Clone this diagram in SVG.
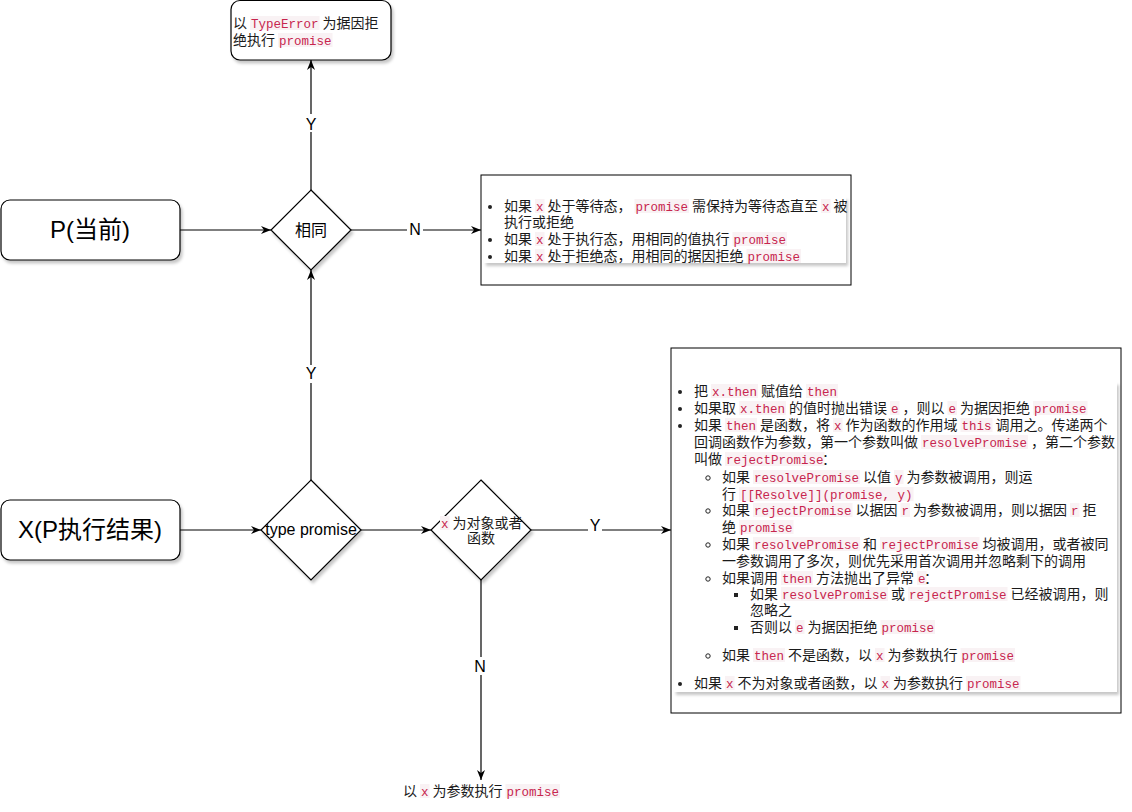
<svg xmlns="http://www.w3.org/2000/svg" width="1132" height="812" viewBox="0 0 1132 812">
<defs>
<style>
.t{font-family:"Liberation Sans","Noto Sans CJK SC",sans-serif;font-size:14px;fill:#1a1a1a}
.c{font-family:"Liberation Mono",monospace;font-size:12.5px;fill:#c7254e}
.cb{fill:#f9f2f4}
.node{fill:#fff;stroke:#000;stroke-width:1.2}
.box{fill:#fff;stroke:#000;stroke-width:1}
.big{font-family:"Liberation Sans","Noto Sans CJK SC",sans-serif;font-size:24px;fill:#000;text-anchor:middle}
.dt{font-family:"Liberation Sans","Noto Sans CJK SC",sans-serif;font-size:16px;fill:#000;text-anchor:middle}
.lbl{font-family:"Liberation Sans",sans-serif;font-size:16px;fill:#000;text-anchor:middle}
.edge{fill:none;stroke:#000;stroke-width:1.2}
.dot{fill:#222}
.ring{fill:none;stroke:#222;stroke-width:1}
</style>
<filter id="sh" x="-10%" y="-10%" width="130%" height="130%"><feDropShadow dx="2" dy="3" stdDeviation="1.5" flood-color="#000" flood-opacity="0.22"/></filter>
<marker id="arr" viewBox="0 0 10 8" refX="10" refY="4" markerWidth="10" markerHeight="8" markerUnits="userSpaceOnUse" orient="auto"><path d="M0,0 L10,4 L0,8 L3,4 z" fill="#000"/></marker>
</defs>
<rect width="1132" height="812" fill="#fff"/>

<g id="connectors">
<path class="edge" d="M180,230 H271" marker-end="url(#arr)"/>
<path class="edge" d="M311,190 V60" marker-end="url(#arr)"/>
<path class="edge" d="M351,230 H481" marker-end="url(#arr)"/>
<path class="edge" d="M180,530 H261" marker-end="url(#arr)"/>
<path class="edge" d="M311,480 V270" marker-end="url(#arr)"/>
<path class="edge" d="M361,530 H431" marker-end="url(#arr)"/>
<path class="edge" d="M531,530 H671" marker-end="url(#arr)"/>
<path class="edge" d="M481,580 V780" marker-end="url(#arr)"/>
<rect x="304" y="114" width="14" height="18" fill="#fff"/><text class="lbl" x="311" y="130">Y</text>
<rect x="407" y="221" width="16" height="18" fill="#fff"/><text class="lbl" x="415" y="235">N</text>
<rect x="304" y="365" width="14" height="18" fill="#fff"/><text class="lbl" x="311" y="379">Y</text>
<rect x="588" y="517" width="14" height="18" fill="#fff"/><text class="lbl" x="595" y="531">Y</text>
<rect x="472" y="657" width="17" height="18" fill="#fff"/><text class="lbl" x="480" y="672">N</text>
</g>

<g id="node-top">
<rect class="node" x="231" y="0.5" width="160" height="59.5" rx="9" filter="url(#sh)"/>
<rect class="cb" x="250" y="16" width="69.5" height="14"/>
<rect class="cb" x="278" y="33" width="54.5" height="14"/>
<text class="t" y="28"><tspan x="233">以</tspan><tspan class="c" x="251">TypeError</tspan><tspan x="322.5">为据因拒</tspan></text>
<text class="t" y="45"><tspan x="233">绝执行</tspan><tspan class="c" x="279">promise</tspan></text>
</g>

<g id="node-p">
<rect class="node" x="1" y="200" width="179" height="60" rx="9" filter="url(#sh)"/>
<text class="big" x="90" y="238">P(当前)</text>
</g>

<g id="node-x">
<rect class="node" x="1" y="500" width="179" height="60" rx="9" filter="url(#sh)"/>
<text class="big" x="90" y="538">X(P执行结果)</text>
</g>

<g id="node-same">
<path class="node" d="M311,190 L351,230 L311,270 L271,230 Z" filter="url(#sh)"/>
<text class="dt" x="311" y="236">相同</text>
</g>

<g id="node-type">
<path class="node" d="M311,480 L361,530 L311,580 L261,530 Z" filter="url(#sh)"/>
<text class="dt" x="311" y="535">type promise</text>
</g>

<g id="node-obj">
<path class="node" d="M481,480 L531,530 L481,580 L431,530 Z" filter="url(#sh)"/>
<rect class="cb" x="440" y="516" width="9.5" height="14"/>
<text class="t" y="528"><tspan class="c" x="441">x</tspan><tspan x="452.5">为对象或者</tspan></text>
<text class="t" x="467" y="543">函数</text>
</g>

<g id="node-pending">
<rect class="box" x="481" y="175" width="370" height="110"/>
<rect x="484" y="197" width="362" height="66" fill="#fff" filter="url(#sh)"/>
<g class="cb">
<rect x="535" y="199" width="9.5" height="14"/><rect x="634.5" y="199" width="54.5" height="14"/><rect x="821" y="199" width="9.5" height="14"/>
<rect x="535" y="232" width="9.5" height="14"/><rect x="732.5" y="232" width="54.5" height="14"/>
<rect x="535" y="249" width="9.5" height="14"/><rect x="746.5" y="249" width="54.5" height="14"/>
</g>
<circle class="dot" cx="490" cy="207" r="2"/><circle class="dot" cx="490" cy="240" r="2"/><circle class="dot" cx="490" cy="257" r="2"/>
<text class="t" y="211"><tspan x="504">如果</tspan><tspan class="c" x="536">x</tspan><tspan x="547.5">处于等待态，</tspan><tspan class="c" x="635.5">promise</tspan><tspan x="692">需保持为等待态直至</tspan><tspan class="c" x="822">x</tspan><tspan x="833.5">被</tspan></text>
<text class="t" x="504" y="227">执行或拒绝</text>
<text class="t" y="244"><tspan x="504">如果</tspan><tspan class="c" x="536">x</tspan><tspan x="547.5">处于执行态，用相同的值执行</tspan><tspan class="c" x="733.5">promise</tspan></text>
<text class="t" y="261"><tspan x="504">如果</tspan><tspan class="c" x="536">x</tspan><tspan x="547.5">处于拒绝态，用相同的据因拒绝</tspan><tspan class="c" x="747.5">promise</tspan></text>
</g>

<g id="node-then">
<rect class="box" x="671" y="348" width="450" height="365"/>
<rect x="674" y="382" width="443" height="310" fill="#fff" filter="url(#sh)"/>
<g class="cb">
<rect x="711" y="384" width="47" height="14"/><rect x="806" y="384" width="32" height="14"/>
<rect x="739" y="401" width="47" height="14"/><rect x="890" y="401" width="9.5" height="14"/><rect x="947.5" y="401" width="9.5" height="14"/><rect x="1033" y="401" width="54.5" height="14"/>
<rect x="725" y="418" width="32" height="14"/><rect x="833" y="418" width="9.5" height="14"/><rect x="960.5" y="418" width="32" height="14"/>
<rect x="921" y="435" width="107" height="14"/>
<rect x="725" y="452" width="99.5" height="14"/>
<rect x="753" y="470" width="107" height="14"/><rect x="894" y="470" width="9.5" height="14"/>
<rect x="739" y="487" width="174.5" height="14"/>
<rect x="753" y="503" width="99.5" height="14"/><rect x="900.5" y="503" width="9.5" height="14"/><rect x="1070" y="503" width="9.5" height="14"/>
<rect x="739" y="520" width="54.5" height="14"/>
<rect x="753" y="537" width="107" height="14"/><rect x="880" y="537" width="99.5" height="14"/>
<rect x="781" y="571" width="32" height="14"/><rect x="917" y="571" width="9.5" height="14"/>
<rect x="781" y="587" width="107" height="14"/><rect x="908" y="587" width="99.5" height="14"/>
<rect x="795" y="620" width="9.5" height="14"/><rect x="880.5" y="620" width="54.5" height="14"/>
<rect x="753" y="648" width="32" height="14"/><rect x="875" y="648" width="9.5" height="14"/><rect x="960.5" y="648" width="54.5" height="14"/>
<rect x="725" y="676" width="9.5" height="14"/><rect x="880.5" y="676" width="9.5" height="14"/><rect x="966" y="676" width="54.5" height="14"/>
</g>
<circle class="dot" cx="680" cy="392" r="2"/><circle class="dot" cx="680" cy="409" r="2"/><circle class="dot" cx="680" cy="426" r="2"/>
<circle class="ring" cx="708" cy="478" r="2.2"/><circle class="ring" cx="708" cy="511" r="2.2"/><circle class="ring" cx="708" cy="545" r="2.2"/><circle class="ring" cx="708" cy="579" r="2.2"/>
<rect class="dot" x="734" y="593" width="4" height="4"/><rect class="dot" x="734" y="626" width="4" height="4"/>
<circle class="ring" cx="708" cy="656" r="2.2"/>
<circle class="dot" cx="680" cy="684" r="2"/>
<text class="t" y="396"><tspan x="694">把</tspan><tspan class="c" x="712">x.then</tspan><tspan x="761">赋值给</tspan><tspan class="c" x="807">then</tspan></text>
<text class="t" y="413"><tspan x="694">如果取</tspan><tspan class="c" x="740">x.then</tspan><tspan x="789">的值时抛出错误</tspan><tspan class="c" x="891">e</tspan><tspan x="902.5">，则以</tspan><tspan class="c" x="948.5">e</tspan><tspan x="960">为据因拒绝</tspan><tspan class="c" x="1034">promise</tspan></text>
<text class="t" y="430"><tspan x="694">如果</tspan><tspan class="c" x="726">then</tspan><tspan x="760">是函数，将</tspan><tspan class="c" x="834">x</tspan><tspan x="845.5">作为函数的作用域</tspan><tspan class="c" x="961.5">this</tspan><tspan x="995.5">调用之。传递两个</tspan></text>
<text class="t" y="447"><tspan x="694">回调函数作为参数，第一个参数叫做</tspan><tspan class="c" x="922">resolvePromise</tspan><tspan x="1031">，第二个参数</tspan></text>
<text class="t" y="464"><tspan x="694">叫做</tspan><tspan class="c" x="726">rejectPromise</tspan><tspan x="822">：</tspan></text>
<text class="t" y="482"><tspan x="722">如果</tspan><tspan class="c" x="754">resolvePromise</tspan><tspan x="863">以值</tspan><tspan class="c" x="895">y</tspan><tspan x="906.5">为参数被调用，则运</tspan></text>
<text class="t" y="499"><tspan x="722">行</tspan><tspan class="c" x="740">[[Resolve]](promise, y)</tspan></text>
<text class="t" y="515"><tspan x="722">如果</tspan><tspan class="c" x="754">rejectPromise</tspan><tspan x="855.5">以据因</tspan><tspan class="c" x="901.5">r</tspan><tspan x="913">为参数被调用，则以据因</tspan><tspan class="c" x="1071">r</tspan><tspan x="1082.5">拒</tspan></text>
<text class="t" y="532"><tspan x="722">绝</tspan><tspan class="c" x="740">promise</tspan></text>
<text class="t" y="549"><tspan x="722">如果</tspan><tspan class="c" x="754">resolvePromise</tspan><tspan x="863">和</tspan><tspan class="c" x="881">rejectPromise</tspan><tspan x="982.5">均被调用，或者被同</tspan></text>
<text class="t" x="722" y="566">一参数调用了多次，则优先采用首次调用并忽略剩下的调用</text>
<text class="t" y="583"><tspan x="722">如果调用</tspan><tspan class="c" x="782">then</tspan><tspan x="816">方法抛出了异常</tspan><tspan class="c" x="918">e</tspan><tspan x="924">：</tspan></text>
<text class="t" y="599"><tspan x="750">如果</tspan><tspan class="c" x="782">resolvePromise</tspan><tspan x="891">或</tspan><tspan class="c" x="909">rejectPromise</tspan><tspan x="1010.5">已经被调用，则</tspan></text>
<text class="t" x="750" y="615">忽略之</text>
<text class="t" y="632"><tspan x="750">否则以</tspan><tspan class="c" x="796">e</tspan><tspan x="807.5">为据因拒绝</tspan><tspan class="c" x="881.5">promise</tspan></text>
<text class="t" y="660"><tspan x="722">如果</tspan><tspan class="c" x="754">then</tspan><tspan x="788">不是函数，以</tspan><tspan class="c" x="876">x</tspan><tspan x="887.5">为参数执行</tspan><tspan class="c" x="961.5">promise</tspan></text>
<text class="t" y="688"><tspan x="694">如果</tspan><tspan class="c" x="726">x</tspan><tspan x="737.5">不为对象或者函数，以</tspan><tspan class="c" x="881.5">x</tspan><tspan x="893">为参数执行</tspan><tspan class="c" x="967">promise</tspan></text>
</g>

<g id="node-bottom">
<rect x="400" y="782" width="160" height="18" fill="#fff"/>
<rect class="cb" x="420" y="784" width="9.5" height="14"/>
<rect class="cb" x="505.5" y="784" width="54.5" height="14"/>
<text class="t" y="796"><tspan x="403">以</tspan><tspan class="c" x="421">x</tspan><tspan x="432.5">为参数执行</tspan><tspan class="c" x="506.5">promise</tspan></text>
</g>
</svg>
